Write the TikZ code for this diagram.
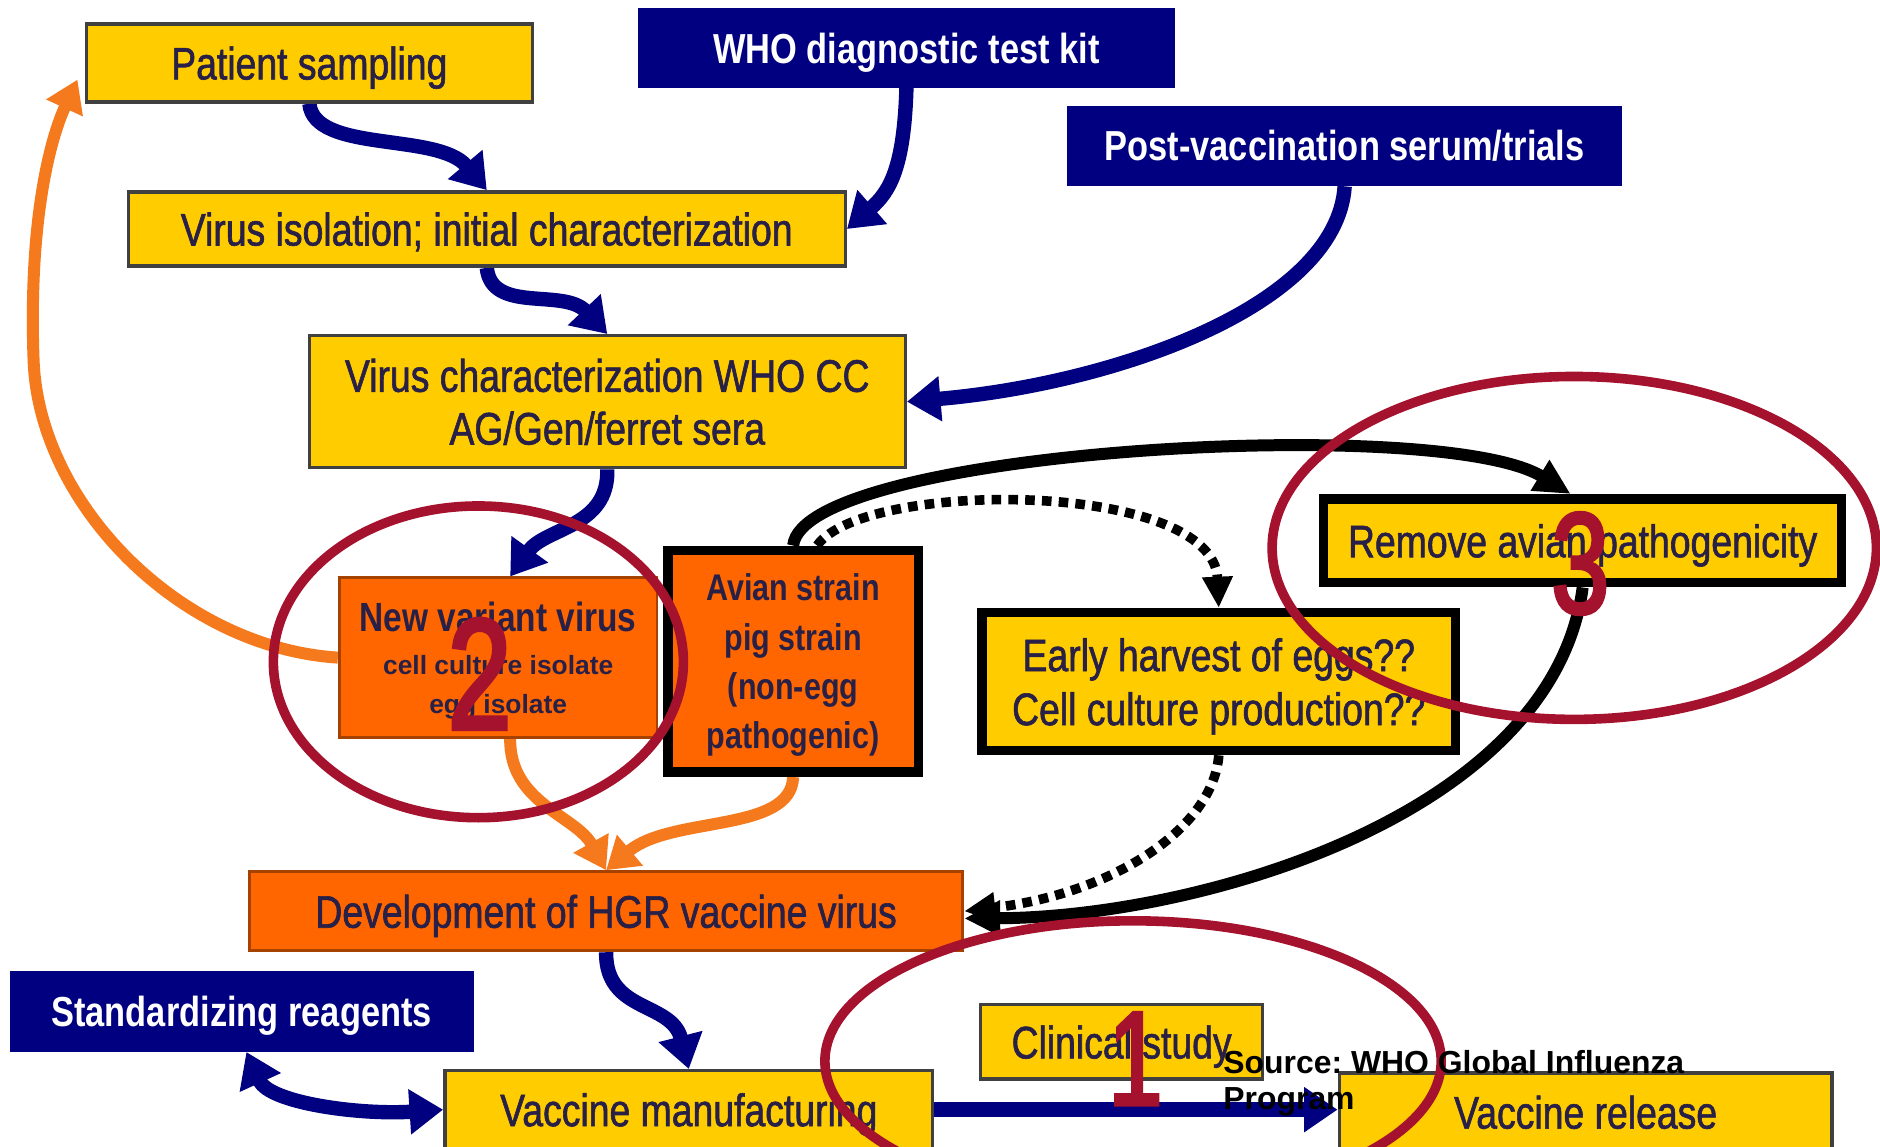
\documentclass[tikz,border=0pt]{standalone}
\usepackage{fontspec}
\setmainfont[FakeStretch=0.82, UprightFeatures={FakeBold=1.3}]{Liberation Sans}
\newfontfamily\plainfont{Liberation Sans}
\newfontfamily\numfont[FakeStretch=0.72, FakeBold=2.5]{Liberation Sans}
\usetikzlibrary{arrows.meta,calc}
\definecolor{gold}{RGB}{255,204,0}
\definecolor{orng}{RGB}{255,102,0}
\definecolor{arrorange}{RGB}{245,122,30}
\definecolor{navy}{RGB}{0,0,128}
\definecolor{ringred}{RGB}{165,18,45}
\definecolor{txt}{RGB}{40,32,70}
\pgfdeclarelayer{bg}
\pgfdeclarelayer{canvas}
\pgfsetlayers{canvas,bg,main}
\frenchspacing
\begin{document}
\begin{tikzpicture}[x=0.5pt,y=-0.5pt,
  box/.style={rectangle, inner sep=0pt, align=center, text depth=0pt, font=\fontsize{19pt}{22pt}\selectfont, text=txt},
  ybox/.style={box, fill=gold, draw=black!75, line width=1.4pt},
  obox/.style={box, fill=orng, draw=orng!65!black, line width=1.2pt},
  nbox/.style={box, fill=navy, text=white, font=\bfseries\fontsize{17.5pt}{22pt}\selectfont},
  kbox/.style={box, draw=black, line width=4pt},
  navyarr/.style={draw=navy, line width=6pt, -{Triangle[length=14pt,width=18pt]}},
  navydbl/.style={draw=navy, line width=6pt, {Triangle[length=14pt,width=18pt]}-{Triangle[length=14pt,width=18pt]}},
  orarr/.style={draw=arrorange, line width=5pt, -{Triangle[length=13pt,width=16pt]}},
  blkarr/.style={draw=black, line width=5pt, -{Triangle[length=15pt,width=14pt]}},
  dotarr/.style={draw=black, line width=4pt, dash pattern=on 4pt off 3pt, -{Triangle[length=13pt,width=12pt]}},
  ring/.style={draw=ringred, line width=4pt},
  num/.style={text=ringred, inner sep=0pt}
]
\useasboundingbox (0,0) rectangle (1568,956);
\begin{pgfonlayer}{canvas}
\fill[white] (0,0) rectangle (1568,956);
\end{pgfonlayer}

% boxes
\node[ybox, minimum width=186pt, minimum height=32.5pt] (patient) at (258,52.5) {Patient sampling};
\node[nbox, minimum width=224pt, minimum height=33pt] (whokit) at (756,40) {WHO diagnostic test kit};
\node[nbox, minimum width=231.5pt, minimum height=33.5pt] (postvac) at (1121.5,121.5) {Post-vaccination serum/trials};
\node[ybox, minimum width=299pt, minimum height=31pt] (isolation) at (406,191) {Virus isolation; initial characterization};
\node[ybox, minimum width=248.5pt, minimum height=55pt] (charac) at (506.5,335) {Virus characterization WHO CC\\AG/Gen/ferret sera};
\node[obox, minimum width=132.5pt, minimum height=66.5pt, font=\plainfont\bfseries\fontsize{11pt}{16pt}\selectfont] (newvar) at (415.5,548.5)
  {{\rmfamily\bfseries\fontsize{17pt}{18pt}\selectfont New variant virus}\\[2pt]cell culture isolate\\egg isolate};
\node[kbox, fill=orng, minimum width=104.5pt, minimum height=92.5pt, font=\bfseries\fontsize{15.5pt}{20.5pt}\selectfont] (avian) at (661.5,551.5)
  {Avian strain\\pig strain\\(non-egg\\pathogenic)};
\node[kbox, fill=gold, minimum width=216pt, minimum height=35pt] (remove) at (1320,451) {Remove avian pathogenicity};
\node[kbox, fill=gold, minimum width=197.5pt, minimum height=57.5pt, font=\fontsize{19pt}{22.5pt}\selectfont] (early) at (1016.5,568.5)
  {Early harvest of eggs??\\Cell culture production??};
\node[obox, minimum width=297.5pt, minimum height=33pt] (develop) at (505.5,760) {Development of HGR vaccine virus};
\node[nbox, minimum width=193.5pt, minimum height=33.5pt] (stdreag) at (201.5,843.5) {Standardizing reagents};
\node[ybox, minimum width=203.5pt, minimum height=32.5pt] (manuf) at (574.5,925.5) {Vaccine manufacturing};
\node[ybox, minimum width=117.5pt, minimum height=31pt] (clinical) at (935.5,869) {Clinical study};
\node[ybox, minimum width=205.5pt, minimum height=32.5pt] (release) at (1322.5,927.5) {Vaccine release};

% connectors
\begin{pgfonlayer}{bg}
\draw[navyarr] (patient.south) .. controls (262,128) and (365,110) .. (isolation.north);
\draw[navyarr] (whokit.south) .. controls (754,140) and (742,160) .. (isolation.east);
\draw[navyarr] (isolation.south) .. controls (410,262) and (470,240) .. (charac.north);
\draw[navyarr] (postvac.south) .. controls (1115,255) and (930,320) .. (charac.east);
\draw[navyarr] (charac.south) .. controls (508,440) and (455,440) .. ([xshift=5pt]newvar.north);
\draw[navyarr] (develop.south) .. controls (505,845) and (560,835) .. (manuf.north);
\draw[navydbl] ([xshift=2pt]stdreag.south) .. controls (225,920) and (300,930) .. (manuf.west);
\draw[navyarr] (manuf.east) -- (manuf.east -| release.west);

\draw[orarr] (newvar.west) .. controls (150,540) and (32,420) .. (28,300) .. controls (24,190) and (40,120) .. ([xshift=-3pt,yshift=10pt]patient.south west);
\draw[orarr] ([xshift=5pt]newvar.south) .. controls (425,670) and (480,680) .. (develop.north);
\draw[orarr] (avian.south) .. controls (660,695) and (560,680) .. (develop.north);

\draw[blkarr] (avian.north) .. controls (670,375) and (1200,345) .. ([xshift=-5pt]remove.north);
\draw[dotarr] ([xshift=10pt]avian.north) .. controls (720,400) and (1012,400) .. (early.north);
\draw[blkarr] (remove.south) .. controls (1295,680) and (1000,765) .. ([yshift=-3pt]develop.east);
\draw[dotarr] (early.south) .. controls (1012,690) and (930,745) .. (develop.east);
\end{pgfonlayer}

% highlight rings and numbers
\draw[ring] (399,552) ellipse [x radius=85.5pt, y radius=65pt];
\draw[ring] (1313,457) ellipse [x radius=126pt, y radius=71.5pt];
\draw[ring] (945,885) ellipse [x radius=128.5pt, y radius=58.5pt];
\node[num, font=\numfont\fontsize{66pt}{66pt}\selectfont] (n2) at (400,562) {2};
\node[num, font=\numfont\fontsize{60pt}{60pt}\selectfont] (n3) at (1318,470) {3};
\node[num, font=\numfont\fontsize{56pt}{56pt}\selectfont] (n1) at (947,883) {1};

\node[anchor=north west, align=left, inner sep=0pt, font=\plainfont\bfseries\fontsize{13.3pt}{15pt}\selectfont] (src) at (1020,876)
  {Source: WHO Global Influenza\\Program};
\end{tikzpicture}
\end{document}
